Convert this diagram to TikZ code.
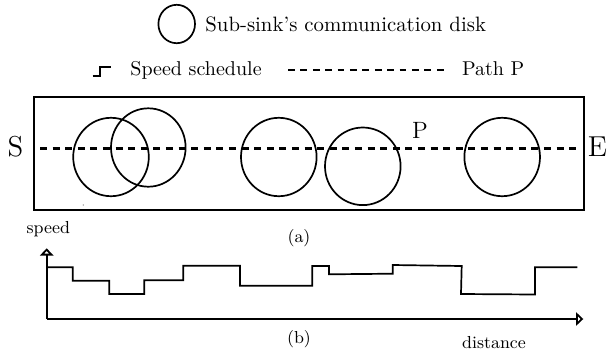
\documentclass[tikz,border=0pt]{standalone}
\usetikzlibrary{arrows.meta}
\begin{document}
\begin{tikzpicture}[x=0.5pt,y=-0.5pt,
  disk/.style={line width=0.85pt},
  frame/.style={line width=1pt},
  pathline/.style={line width=1.5pt,dash pattern=on 3.5pt off 2.8pt},
  legdash/.style={line width=1.3pt,dash pattern=on 3.4pt off 2.8pt},
  sched/.style={line width=0.85pt,line join=miter},
  legstep/.style={line width=1.1pt,line join=miter},
  axis/.style={line width=0.9pt,-{Triangle[open,length=3.6pt,width=6.6pt,line width=0.9pt]}},
  lbl/.style={inner sep=0pt,font=\fontsize{8.7}{10}\selectfont},
  leg/.style={inner sep=0pt,anchor=base west,font=\fontsize{10.4}{12}\selectfont},
  big/.style={inner sep=0pt,anchor=base,font=\fontsize{14.4}{16}\selectfont}]
\useasboundingbox (0,0) rectangle (607,355);
% legend
\draw[disk] (176.7,24) ellipse [x radius=18.3, y radius=19.2];
\node[leg] (legdisk) at (205,31.7) {Sub-sink's communication disk};
\draw[legstep] (92.7,76) -- (100,76) -- (100,66.7) -- (110.7,66.7);
\node[leg,font=\fontsize{10}{12}\selectfont] (legspeed) at (130,75) {Speed schedule};
\coordinate (ld1) at (288,70);
\coordinate (ld2) at (447,70);
\draw[legdash] (ld1) -- (ld2);
\node[leg,font=\fontsize{10}{12}\selectfont] (legpath) at (461.7,75) {Path P};
% panel (a)
\draw[frame] (34.3,97.3) rectangle (584.3,210);
\node[big] (S) at (15.5,156.7) {S};
\node[big] (E) at (597.5,156.7) {E};
\node[big,font=\fontsize{11.8}{14}\selectfont] (P) at (420,138) {P};
\coordinate (pS) at (40,148.3);
\coordinate (pE) at (580,148.3);
\draw[pathline] (pS) -- (pE);
\draw[disk] (111,157) ellipse [x radius=37.8, y radius=39.2];
\draw[disk] (148.3,147.5) ellipse [x radius=37.3, y radius=39.2];
\draw[disk] (278.8,157) ellipse [x radius=37.8, y radius=39.2];
\draw[disk] (362.8,166.3) ellipse [x radius=37.8, y radius=38.8];
\draw[disk] (502.2,157) ellipse [x radius=37.8, y radius=39.2];
\fill[black!60] (83.3,205) circle [radius=0.6];
\node[lbl,anchor=base] (capa) at (299,242.7) {(a)};
% panel (b)
\coordinate (O) at (46.7,319);
\coordinate (ytip) at (46.7,248.3);
\coordinate (xtip) at (583.3,319);
\draw[axis] (O) -- (ytip);
\draw[axis] (O) -- (xtip);
\node[lbl,anchor=base] (speedlbl) at (48.3,233.3) {speed};
\node[lbl,anchor=base] (distlbl) at (494,348.3) {distance};
\node[lbl,anchor=base] (capb) at (299,343.7) {(b)};
\draw[sched] (46.7,267.3) -- (72.7,267.3) -- (72.7,280.7) -- (109.3,280.7)
  -- (109.3,294) -- (144.3,294) -- (144.3,280.3) -- (183.3,280.3)
  -- (183.3,265.7) -- (240,265.7) -- (240,285.7) -- (312.3,285.7)
  -- (312.3,266) -- (329,266) -- (329,274.3) -- (392.7,273.7)
  -- (392.7,265) -- (461.7,266) -- (461,294) -- (535,294.5)
  -- (535,267.3) -- (577.3,267.3);
\end{tikzpicture}
\end{document}
